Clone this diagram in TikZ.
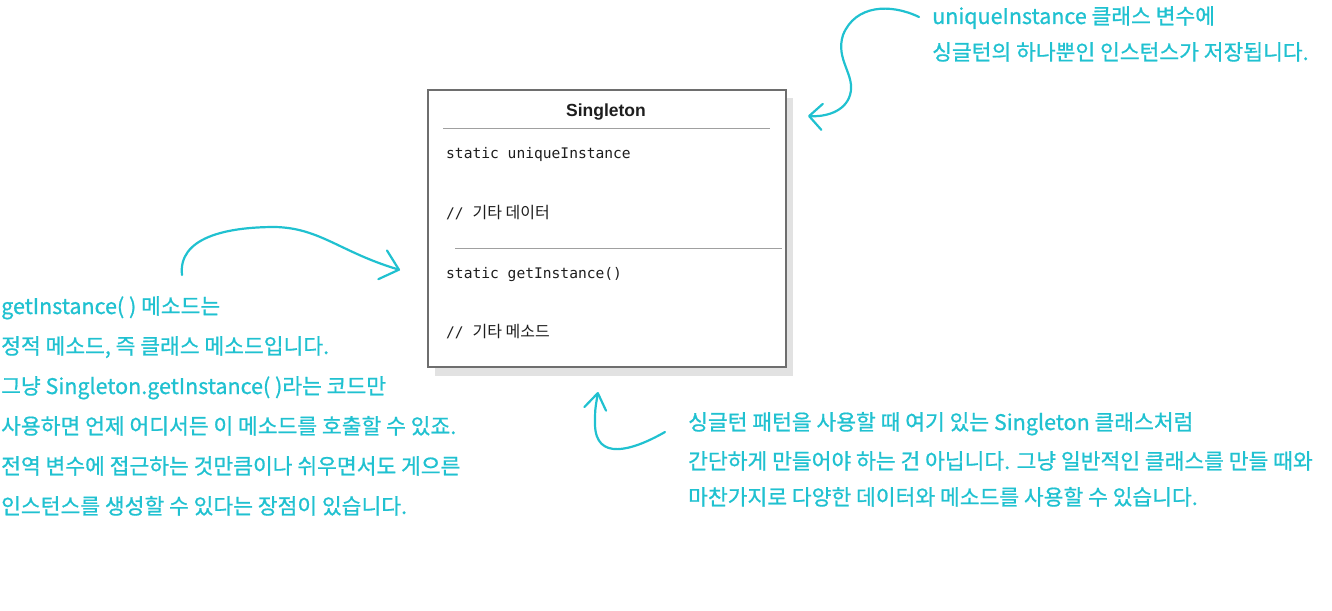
\documentclass[tikz,border=0pt]{standalone}
\usepackage{fontspec}
\setmainfont{Noto Sans CJK KR}
\newfontfamily\cjk{Noto Sans CJK KR}
\newfontfamily\notef[FakeBold=0.8]{Noto Sans CJK KR}
\newfontfamily\monof{DejaVu Sans Mono}
\newfontfamily\titlef{Liberation Sans}
\usetikzlibrary{arrows.meta}
\definecolor{notecyan}{RGB}{32,193,208}
\definecolor{boxgray}{RGB}{110,110,110}
\definecolor{sepgray}{RGB}{160,160,160}
\definecolor{shadowgray}{RGB}{226,226,226}
\definecolor{codetext}{RGB}{30,30,30}
\tikzset{
  note/.style={text=notecyan, font=\notef\fontsize{21.5}{21.5}\selectfont, inner sep=0pt, anchor=west, text height=0.75em, text depth=0.15em, yshift=-4pt},
  code/.style={text=codetext, font=\monof\fontsize{14.6}{14.6}\selectfont, inner sep=0pt, anchor=west, text height=0.75em, text depth=0.2em, yshift=-3pt},
  kor/.style={font=\cjk\fontsize{16}{16}\selectfont},
  hand/.style={draw=notecyan, line width=2.2pt, line cap=round, line join=round},
}
\begin{document}
\begin{tikzpicture}[x=1pt,y=-1pt]
\useasboundingbox (0,0) rectangle (1332,610);
% shadow and class box
\fill[shadowgray] (435,98) rectangle (793,376);
\node[draw=boxgray, line width=1.5pt, fill=white, anchor=north west, minimum width=358pt, minimum height=277pt, inner sep=0pt] (cls) at (427,89) {};
\node[font=\titlef\bfseries\fontsize{17.5}{17.5}\selectfont, text=codetext, inner sep=0pt, yshift=-2pt] (title) at (606,110) {Singleton};
\draw[sepgray, line width=1pt] (443,128) coordinate (s1a) -- (770,128) coordinate (s1b);
\draw[sepgray, line width=1pt] (455,248) coordinate (s2a) -- (782,248) coordinate (s2b);
\node[code] (f1) at (446,153) {static uniqueInstance};
\node[code] (f2) at (446,213) {// {\cjk\fontsize{16}{16}\selectfont 기타 데이터}};
\node[code] (m1) at (446,273) {static getInstance()};
\node[code] (m2) at (446,332) {// {\cjk\fontsize{16}{16}\selectfont 기타 메소드}};
% top-right note
\node[note] (t1) at (932,17) {uniqueInstance 클래스 변수에};
\node[note] (t2) at (932,53) {싱글턴의 하나뿐인 인스턴스가 저장됩니다.};
% left note
\node[note] (l1) at (1,307) {getInstance( ) 메소드는};
\node[note] (l2) at (1,347) {정적 메소드, 즉 클래스 메소드입니다.};
\node[note] (l3) at (1,387) {그냥 Singleton.getInstance( )라는 코드만};
\node[note] (l4) at (1,427) {사용하면 언제 어디서든 이 메소드를 호출할 수 있죠.};
\node[note] (l5) at (1,467) {전역 변수에 접근하는 것만큼이나 쉬우면서도 게으른};
\node[note] (l6) at (1,507) {인스턴스를 생성할 수 있다는 장점이 있습니다.};
% bottom-right note
\node[note] (b1) at (688,423) {싱글턴 패턴을 사용할 때 여기 있는 Singleton 클래스처럼};
\node[note] (b2) at (688,462) {간단하게 만들어야 하는 건 아닙니다. 그냥 일반적인 클래스를 만들 때와};
\node[note] (b3) at (688,498) {마찬가지로 다양한 데이터와 메소드를 사용할 수 있습니다.};
% arrow anchor coordinates
\coordinate (a1s) at (919,17);
\coordinate (a1e) at (808,116);
\coordinate (a2s) at (182,275);
\coordinate (a2e) at (400,270);
\coordinate (a3s) at (665,432);
\coordinate (a3e) at (598,392);
% arrows
\draw[hand, -{Straight Barb[length=13pt, width=26pt, round]}] (a1s) .. controls (890,3) and (855,5) .. (843,35) .. controls (835,60) and (856,75) .. (850,95) .. controls (845,112) and (825,117) .. (a1e);
\draw[hand, -{Straight Barb[length=17pt, width=30pt, round]}] (a2s) .. controls (178,238) and (225,227) .. (275,227) .. controls (320,228) and (340,252) .. (a2e);
\draw[hand, -{Straight Barb[length=16pt, width=22pt, round]}] (a3s) .. controls (630,452) and (596,460) .. (595,425) .. controls (595,410) .. (a3e);
\end{tikzpicture}
\end{document}
